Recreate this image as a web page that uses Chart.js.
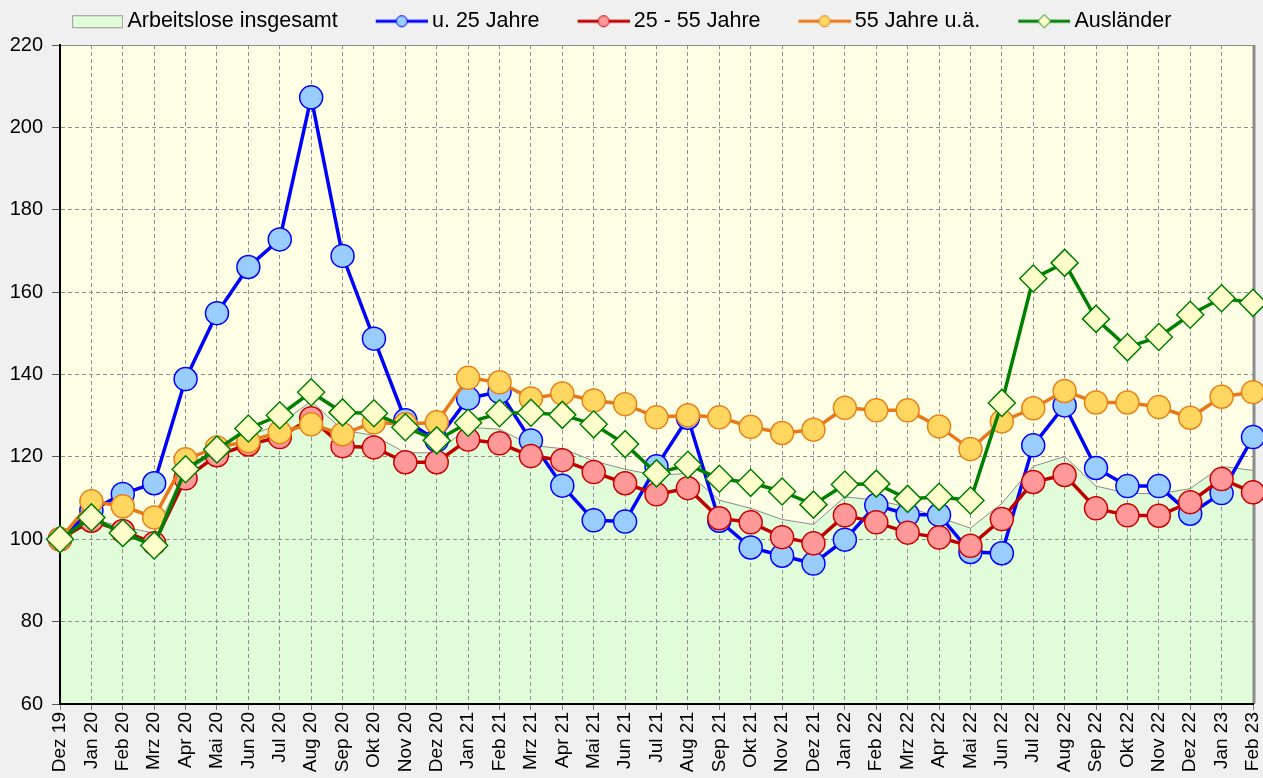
<!DOCTYPE html>
<html>
<head>
<meta charset="utf-8">
<script src="https://cdn.jsdelivr.net/npm/chart.js@4.4.0/dist/chart.umd.min.js"></script>
<style>
  html, body { margin: 0; padding: 0; background: #f0f0f0; }
</style>
</head>
<body>
<canvas id="chart" width="1263" height="778"></canvas>
<script>
const monate = [
  'Dez 19', 'Jan 20', 'Feb 20', 'Mrz 20', 'Apr 20', 'Mai 20', 'Jun 20', 'Jul 20', 'Aug 20', 'Sep 20', 'Okt 20', 'Nov 20', 'Dez 20',
  'Jan 21', 'Feb 21', 'Mrz 21', 'Apr 21', 'Mai 21', 'Jun 21', 'Jul 21', 'Aug 21', 'Sep 21', 'Okt 21', 'Nov 21', 'Dez 21',
  'Jan 22', 'Feb 22', 'Mrz 22', 'Apr 22', 'Mai 22', 'Jun 22', 'Jul 22', 'Aug 22', 'Sep 22', 'Okt 22', 'Nov 22', 'Dez 22',
  'Jan 23', 'Feb 23'
];

// Index, Dez 19 = 100
const insgesamt = [100, 105, 103, 101.5, 116.5, 121, 125, 128, 133.5, 126.5, 125.2, 121, 121, 127.2, 126.7, 122.8, 122, 119, 117, 115.5, 116, 109.5, 107.5, 104.8, 103.6, 110.3, 109.5, 107.8, 105.3, 102.7, 108.7, 117.7, 120.1, 112.9, 111.2, 111, 112.3, 117.7, 116.7];
const unter25 = [100, 107, 111, 113.6, 138.9, 154.9, 166.1, 172.8, 207.3, 168.8, 148.7, 128.9, 124, 134.2, 135.8, 124, 113, 104.6, 104.3, 117.7, 129.5, 104.5, 98, 96, 94.1, 99.9, 108.3, 106, 105.9, 96.9, 96.6, 122.8, 132.5, 117.3, 112.9, 112.9, 106.2, 111.2, 124.8];
const von25bis55 = [100, 104.5, 102, 99, 114.8, 120.4, 123, 124.8, 129.4, 122.6, 122.3, 118.7, 118.7, 124.2, 123.3, 120.2, 119.2, 116.3, 113.6, 110.9, 112.4, 105.1, 104.1, 100.5, 99, 105.8, 104.1, 101.6, 100.4, 98.4, 104.9, 113.9, 115.6, 107.5, 105.8, 105.7, 109, 114.6, 111.4];
const ab55 = [100, 109.2, 108, 105.3, 119.4, 122.3, 123.8, 126, 127.9, 125.5, 128.4, 127.9, 128.4, 139.2, 138.1, 134.2, 135.4, 133.7, 132.8, 129.6, 130.1, 129.6, 127.3, 125.8, 126.6, 131.9, 131.3, 131.3, 127.4, 121.9, 128.6, 131.8, 136, 133.2, 133.2, 132.1, 129.5, 134.6, 135.7];
const auslaender = [100, 105.3, 101.5, 98.5, 117, 121.8, 126.9, 130.1, 135.7, 130.8, 130.6, 127.2, 124, 128.3, 130.6, 130.7, 130.2, 127.9, 123.1, 116, 118.1, 114.7, 113.7, 111.6, 108.4, 113.3, 113.5, 109.8, 110.3, 109.4, 133.1, 163.3, 167.1, 153.5, 146.6, 149.1, 154.5, 158.5, 157.4];

const FONT = '"Liberation Sans", Arial, sans-serif';

// kleine Symbole für die Legende (Linie mit Marker bzw. Fläche)
function legendIcon(kind, line, fill, border) {
  const c = document.createElement('canvas');
  c.width = 61; c.height = 20;
  const g = c.getContext('2d');
  if (kind === 'box') {
    g.fillStyle = fill;
    g.fillRect(10.5, 4.5, 50, 12);
    g.strokeStyle = border; g.lineWidth = 1;
    g.strokeRect(10.5, 4.5, 50, 12);
    return c;
  }
  g.strokeStyle = line; g.lineWidth = 3;
  g.beginPath(); g.moveTo(9, 10); g.lineTo(61, 10); g.stroke();
  g.fillStyle = fill; g.strokeStyle = border; g.lineWidth = 1;
  g.beginPath();
  if (kind === 'diamond') {
    g.moveTo(35, 3.5); g.lineTo(41.5, 10); g.lineTo(35, 16.5); g.lineTo(28.5, 10); g.closePath();
  } else {
    g.arc(35, 10, 5.5, 0, Math.PI * 2);
  }
  g.fill(); g.stroke();
  return c;
}

const icons = [
  legendIcon('box', null, '#e1fcd9', '#999999'),
  legendIcon('circle', '#0000ff', '#99ccff', '#0000ff'),
  legendIcon('circle', '#c00000', '#ff9999', '#cc0000'),
  legendIcon('circle', '#e8791a', '#ffd660', '#e8801a'),
  legendIcon('diamond', '#008000', '#ffffcc', '#008000')
];

const legendHeight = {
  id: 'legendHeight',
  beforeInit(chart) {
    const fit = chart.legend.fit;
    chart.legend.fit = function () {
      fit.call(this);
      this.height = 70;
    };
  }
};

const plotFrame = {
  id: 'plotFrame',
  beforeDraw(chart) {
    const { ctx, chartArea: a } = chart;
    ctx.save();
    ctx.fillStyle = '#ffffe6';
    ctx.fillRect(a.left, a.top, a.right - a.left, a.bottom - a.top);
    ctx.restore();
  },
  beforeDatasetsDraw(chart) {
    // Gitter über der grünen Fläche nochmal zeichnen
    const { ctx, chartArea: a } = chart;
    chart.scales.x.drawGrid(a);
    chart.scales.y.drawGrid(a);
    ctx.save();
    ctx.strokeStyle = '#8c8c8c';
    ctx.lineWidth = 1;
    ctx.beginPath(); ctx.moveTo(a.left, a.top + 0.5); ctx.lineTo(a.right, a.top + 0.5); ctx.stroke();
    ctx.lineWidth = 3;
    ctx.beginPath(); ctx.moveTo(a.right + 1, a.top); ctx.lineTo(a.right + 1, a.bottom); ctx.stroke();
    ctx.restore();
    chart.scales.x.drawBorder();
    chart.scales.y.drawBorder();
  }
};

function linie(label, data, line, fill, border, order, style) {
  return {
    label: label,
    data: data,
    order: order,
    borderColor: line,
    borderWidth: 3.5,
    backgroundColor: fill,
    pointBackgroundColor: fill,
    pointBorderColor: border,
    pointBorderWidth: 1.5,
    pointStyle: style || 'circle',
    pointRadius: style === 'rectRot' ? 13.5 : 11.5,
    tension: 0,
    fill: false,
    clip: false
  };
}

new Chart(document.getElementById('chart'), {
  type: 'line',
  data: {
    labels: monate,
    datasets: [
      {
        label: 'Arbeitslose insgesamt',
        data: insgesamt,
        order: 4,
        borderColor: '#8c8c8c',
        borderWidth: 1,
        backgroundColor: '#e1fcd9',
        pointRadius: 0,
        tension: 0,
        fill: 'start',
        clip: false
      },
      linie('u. 25 Jahre', unter25, '#0000ff', '#99ccff', '#0000ff', 3),
      linie('25 - 55 Jahre', von25bis55, '#c00000', '#ff9999', '#cc0000', 2),
      linie('55 Jahre u.ä.', ab55, '#e8791a', '#ffd660', '#e8801a', 1),
      linie('Ausländer', auslaender, '#008000', '#ffffcc', '#008000', 0, 'rectRot')
    ]
  },
  options: {
    responsive: false,
    animation: false,
    layout: { autoPadding: false, padding: { top: -25, left: -23, right: 0, bottom: 0 } },
    plugins: {
      filler: { drawTime: 'beforeDatasetsDraw' },
      tooltip: { enabled: false },
      legend: {
        position: 'top',
        labels: {
          usePointStyle: true,
          pointStyleWidth: 48,
          padding: 35.5,
          color: '#000',
          font: { family: FONT, size: 21.5 },
          sort: (a, b) => a.datasetIndex - b.datasetIndex,
          generateLabels(chart) {
            const items = Chart.defaults.plugins.legend.labels.generateLabels(chart);
            items.forEach(it => { it.pointStyle = icons[it.datasetIndex]; });
            return items;
          }
        }
      }
    },
    scales: {
      x: {
        offset: false,
        afterFit(scale) {
          scale.height = 74;
          scale.paddingRight = 10;
          scale.paddingLeft = 0;
        },
        grid: {
          color: '#8f8f8f',
          tickBorderDash: [],
          tickColor: '#808080',
          tickLength: 6,
          lineWidth: 1
        },
        border: { color: '#000', width: 2, dash: [4, 3] },
        ticks: {
          autoSkip: false,
          maxRotation: 90,
          minRotation: 90,
          padding: 2,
          color: '#000',
          font: { family: FONT, size: 19 }
        }
      },
      y: {
        min: 60,
        max: 220,
        afterFit(scale) {
          scale.width = 83;
        },
        grid: {
          color: '#8f8f8f',
          tickBorderDash: [],
          tickColor: '#555',
          tickLength: 8,
          lineWidth: 1
        },
        border: { color: '#000', width: 2, dash: [4, 3] },
        ticks: {
          stepSize: 20,
          padding: 9,
          color: '#000',
          font: { family: FONT, size: 20 }
        }
      }
    }
  },
  plugins: [legendHeight, plotFrame]
});
</script>
</body>
</html>
